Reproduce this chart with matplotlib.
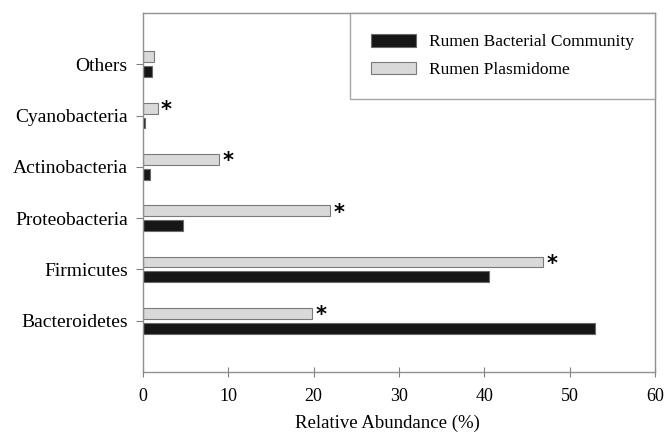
import matplotlib.pyplot as plt
import numpy as np

categories = ['Bacteroidetes', 'Firmicutes', 'Proteobacteria',
              'Actinobacteria', 'Cyanobacteria', 'Others']
bacterial = [53.0, 40.6, 4.7, 0.8, 0.2, 1.0]
plasmidome = [19.8, 46.9, 21.9, 8.9, 1.7, 1.3]
significant = [True, True, True, True, True, False]

plt.rcParams['font.family'] = ['Liberation Serif', 'DejaVu Serif']

fig = plt.figure(figsize=(6.64, 4.37), dpi=100)
ax = fig.add_axes([0.2154, 0.1487, 0.7710, 0.8215])

y = np.arange(len(categories))
h = 0.21
off = 0.145

ax.barh(y - off, bacterial, height=h, color='#161616', edgecolor='#6a6a6a',
        linewidth=0.8, label='Rumen Bacterial Community')
ax.barh(y + off, plasmidome, height=h, color='#d9d9d9', edgecolor='#7a7a7a',
        linewidth=0.8, label='Rumen Plasmidome')

for yi, v, s in zip(y, plasmidome, significant):
    if s:
        ax.text(v + 0.4, yi + off - 0.04, '*', fontsize=15, fontweight='bold',
                va='center', ha='left', family='DejaVu Sans')

ax.set_xlim(0, 60)
ax.set_ylim(-1, 6)
ax.set_xticks(range(0, 61, 10))
ax.set_yticks(y)
ax.set_yticklabels(categories, fontsize=14)
ax.tick_params(axis='x', labelsize=13, direction='inout', length=7,
               color='#808080', pad=8)
ax.tick_params(axis='y', direction='out', length=5, color='#808080', pad=6)
for sp in ax.spines.values():
    sp.set_color('#909090')
    sp.set_linewidth(1.0)

ax.set_xlabel('Relative Abundance (%)', fontsize=13.5, labelpad=7, x=0.477)

leg = ax.legend(loc='upper right', fontsize=12.5, frameon=True, fancybox=False,
                borderpad=1.2, handlelength=2.6, handleheight=0.75,
                labelspacing=0.65, handletextpad=0.75, borderaxespad=0,
                bbox_to_anchor=(1.0, 1.0))
leg.get_frame().set_edgecolor('#909090')
leg.get_frame().set_linewidth(1.0)

fig.savefig('out.png', dpi=100)
